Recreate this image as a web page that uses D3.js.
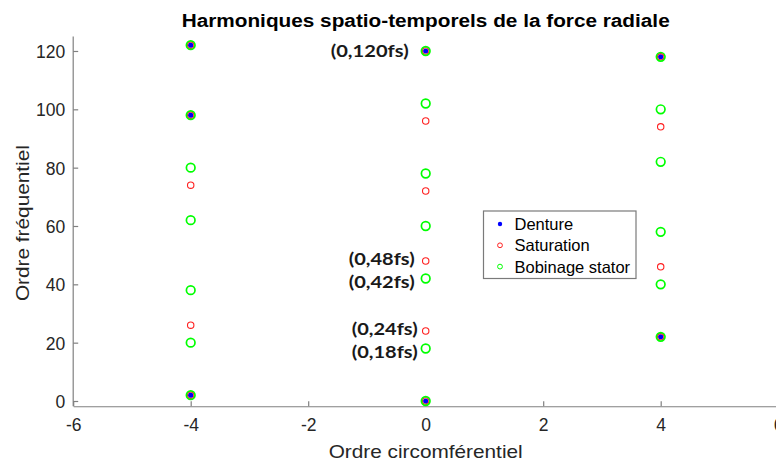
<!DOCTYPE html>
<html>
<head>
<meta charset="utf-8">
<script src="https://cdn.jsdelivr.net/npm/d3@7"></script>
<style>
  html, body { margin: 0; padding: 0; background: #fff; }
  svg { display: block; }
  text { font-family: "Liberation Sans", Arial, sans-serif; }
</style>
</head>
<body>
<svg id="chart" width="776" height="461"></svg>
<script>
// Spatio-temporal harmonics of the radial force: (circumferential order, frequency order)
const dentureX    = [-4, -4, -4, 0, 0, 4, 4];
const dentureY    = [122, 98, 2, 120, 0, 118, 22];
const saturationX = [-4, -4, -4, -4, -4, 0, 0, 0, 0, 0, 0, 4, 4, 4, 4];
const saturationY = [122, 98, 74, 26, 2, 120, 96, 72, 48, 24, 0, 118, 94, 46, 22];
const bobinageX   = [-4, -4, -4, -4, -4, -4, -4, 0, 0, 0, 0, 0, 0, 0, 4, 4, 4, 4, 4, 4];
const bobinageY   = [122, 98, 80, 62, 38, 20, 2, 120, 102, 78, 60, 42, 18, 0, 118, 100, 82, 58, 40, 22];

const xTicks = [-6, -4, -2, 0, 2, 4, 6];
const yTicks = [0, 20, 40, 60, 80, 100, 120];

const seriesNames = ["Denture", "Saturation", "Bobinage stator"];

// Annotated harmonics on the zero circumferential order
const noteLabels = ["(0,120fs)", "(0,48fs)", "(0,42fs)", "(0,24fs)", "(0,18fs)"];
const noteValues = [120, 48, 42, 24, 18];

const titleText = "Harmoniques spatio-temporels de la force radiale";
const xLabelText = "Ordre circomférentiel";
const yLabelText = "Ordre fréquentiel";

const svg = d3.select("#chart");

const x = d3.scaleLinear().domain([-6, 6]).range([73.2, 778.2]);
const y = d3.scaleLinear().domain([-1.8, 125]).range([406.25, 36.4]);

const axisColor = "#808080";
const tickTextColor = "#262626";

// Axes (box off, inward ticks, plain hyphen for negatives)
const fmt = d => String(d);
const xAxis = d3.axisBottom(x).tickValues(xTicks).tickFormat(fmt).tickSizeInner(-5).tickSizeOuter(0).tickPadding(10);
const yAxis = d3.axisLeft(y).tickValues(yTicks).tickFormat(fmt).tickSizeInner(-5).tickSizeOuter(0).tickPadding(8);

const gx = svg.append("g").attr("transform", `translate(0,${y(-1.8)})`).call(xAxis);
const gy = svg.append("g").attr("transform", `translate(${x(-6)},0)`).call(yAxis);

[gx, gy].forEach(g => {
  g.select(".domain").attr("stroke", axisColor).attr("stroke-width", 1.2);
  g.selectAll(".tick line").attr("stroke", axisColor).attr("stroke-width", 1.2);
  g.selectAll(".tick text")
    .attr("fill", tickTextColor)
    .style("font-size", "17.5px")
    .style("font-family", "'Liberation Sans', Arial, sans-serif");
});
gx.selectAll(".tick text").attr("dy", "0.85em");
gy.selectAll(".tick text").attr("dy", "0.38em");
gy.select(".domain").attr("d", `M0,${y(-1.8)}V${y(125)}`);

// Markers, drawn in legend order so later series sit on top
function pts(xs, ys) { return xs.map((v, i) => ({ x: v, y: ys[i] })); }

svg.append("g").selectAll("circle")
  .data(pts(dentureX, dentureY)).join("circle")
  .attr("cx", d => x(d.x)).attr("cy", d => y(d.y))
  .attr("r", 2.6).attr("fill", "#0000ff");

svg.append("g").selectAll("circle")
  .data(pts(saturationX, saturationY)).join("circle")
  .attr("cx", d => x(d.x)).attr("cy", d => y(d.y))
  .attr("r", 3.2).attr("fill", "none").attr("stroke", "#ff2020").attr("stroke-width", 1.1);

svg.append("g").selectAll("circle")
  .data(pts(bobinageX, bobinageY)).join("circle")
  .attr("cx", d => x(d.x)).attr("cy", d => y(d.y))
  .attr("r", 4.3).attr("fill", "none").attr("stroke", "#00ff00").attr("stroke-width", 1.7);

// Annotations
const noteShift = { 120: [17, 0.33], 48: [11, 0.22], 42: [11, 0.55], 24: [8, 0.22], 18: [8, 0.55] };
svg.append("g").selectAll("text")
  .data(noteLabels.map((t, i) => ({ t, v: noteValues[i] }))).join("text")
  .attr("x", d => x(0) - noteShift[d.v][0])
  .attr("y", d => y(d.v))
  .attr("dy", d => noteShift[d.v][1] + "em")
  .attr("text-anchor", "end")
  .attr("textLength", d => d.v === 120 ? 78 : 66)
  .attr("lengthAdjust", "spacingAndGlyphs")
  .style("font-family", "Lato, 'Open Sans', sans-serif")
  .style("font-weight", "bold")
  .style("font-size", "17.5px")
  .attr("fill", "#1a1a1a")
  .text(d => d.t);

// Title and axis labels
svg.append("text")
  .attr("x", x(0)).attr("y", 27)
  .attr("text-anchor", "middle")
  .attr("textLength", 488).attr("lengthAdjust", "spacingAndGlyphs")
  .style("font-weight", "bold").style("font-size", "17.5px")
  .attr("fill", "#000")
  .text(titleText);

svg.append("text")
  .attr("x", x(0)).attr("y", 457.5)
  .attr("text-anchor", "middle")
  .attr("textLength", 194).attr("lengthAdjust", "spacingAndGlyphs")
  .style("font-size", "19px")
  .attr("fill", tickTextColor)
  .text(xLabelText);

svg.append("text")
  .attr("transform", `translate(29,${y(61)}) rotate(-90)`)
  .attr("text-anchor", "middle")
  .attr("textLength", 156).attr("lengthAdjust", "spacingAndGlyphs")
  .style("font-size", "19px")
  .attr("fill", tickTextColor)
  .text(yLabelText);

// Legend
const legend = svg.append("g").attr("transform", "translate(483.5,211)");
legend.append("rect")
  .attr("width", 152.5).attr("height", 67.5)
  .attr("fill", "#fff").attr("stroke", "#7a7a7a").attr("stroke-width", 1.2);

const rows = legend.selectAll("g.row").data(seriesNames).join("g")
  .attr("class", "row")
  .attr("transform", (d, i) => `translate(0,${13 + i * 21.3})`);

rows.append("circle")
  .attr("cx", 16.5).attr("cy", 0)
  .attr("r", (d, i) => i === 0 ? 2.2 : 2.4)
  .attr("fill", (d, i) => i === 0 ? "#0000ff" : "none")
  .attr("stroke", (d, i) => i === 0 ? "none" : (i === 1 ? "#ff2020" : "#00ff00"))
  .attr("stroke-width", 1);

rows.append("text")
  .attr("x", 31).attr("y", 0).attr("dy", "0.36em")
  .style("font-size", "16.5px")
  .attr("fill", "#000")
  .text(d => d);
</script>
</body>
</html>
